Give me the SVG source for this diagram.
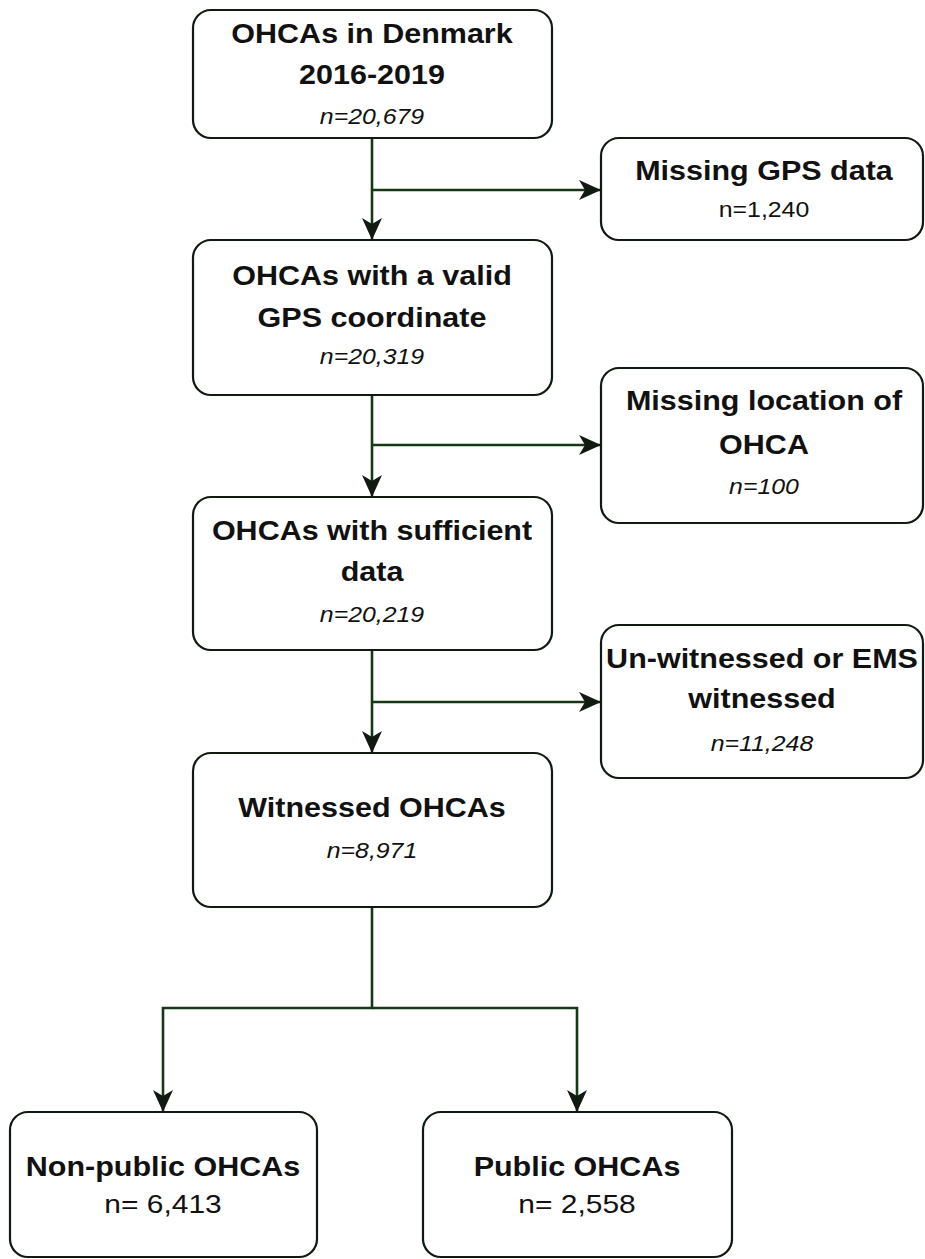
<svg xmlns="http://www.w3.org/2000/svg" width="925" height="1259" viewBox="0 0 925 1259">
<defs>
<style>
.box{fill:#ffffff;stroke:#111a11;stroke-width:2.2}
.con{fill:none;stroke:#173817;stroke-width:2.6}
.t{font-family:"Liberation Sans",Arial,sans-serif;text-anchor:middle;fill:#111111}
.b{font-weight:bold;font-size:27px}
.i{font-style:italic;font-size:22px}
.r{font-size:22px}
.rb{font-size:26.5px}
</style>
<marker id="ah" viewBox="0 0 22 20" refX="21" refY="10" markerWidth="22" markerHeight="20" markerUnits="userSpaceOnUse" orient="auto">
<path d="M0,0 L22,10 L0,20 L6,10 Z" fill="#111a11"/>
</marker>
</defs>
<rect width="925" height="1259" fill="#ffffff"/>
<g id="connectors">
<line class="con" x1="372" y1="138" x2="372" y2="239" marker-end="url(#ah)"/>
<line class="con" x1="372" y1="190" x2="600" y2="190" marker-end="url(#ah)"/>
<line class="con" x1="372" y1="395" x2="372" y2="496" marker-end="url(#ah)"/>
<line class="con" x1="372" y1="445" x2="600" y2="445" marker-end="url(#ah)"/>
<line class="con" x1="372" y1="650" x2="372" y2="752" marker-end="url(#ah)"/>
<line class="con" x1="372" y1="702" x2="600" y2="702" marker-end="url(#ah)"/>
<polyline class="con" points="372,907 372,1008 163,1008 163,1111" marker-end="url(#ah)"/>
<polyline class="con" points="372,1008 577,1008 577,1111" marker-end="url(#ah)"/>
</g>
<g id="n1">
<rect class="box" x="193" y="10" width="359" height="128" rx="18"/>
<text class="t b" transform="translate(372 43) scale(1.13 1)">OHCAs in Denmark</text>
<text class="t b" transform="translate(372 84) scale(1.13 1)">2016-2019</text>
<text class="t i" transform="translate(372 124) scale(1.13 1)">n=20,679</text>
</g>
<g id="n2">
<rect class="box" x="193" y="240" width="359" height="155" rx="18"/>
<text class="t b" transform="translate(372 285) scale(1.13 1)">OHCAs with a valid</text>
<text class="t b" transform="translate(372 327) scale(1.13 1)">GPS coordinate</text>
<text class="t i" transform="translate(372 364) scale(1.13 1)">n=20,319</text>
</g>
<g id="n3">
<rect class="box" x="193" y="497" width="359" height="153" rx="18"/>
<text class="t b" transform="translate(372 540) scale(1.13 1)">OHCAs with sufficient</text>
<text class="t b" transform="translate(372 581) scale(1.13 1)">data</text>
<text class="t i" transform="translate(372 622) scale(1.13 1)">n=20,219</text>
</g>
<g id="n4">
<rect class="box" x="193" y="753" width="359" height="154" rx="18"/>
<text class="t b" transform="translate(372 817) scale(1.13 1)">Witnessed OHCAs</text>
<text class="t i" transform="translate(372 858) scale(1.13 1)">n=8,971</text>
</g>
<g id="r1">
<rect class="box" x="601" y="138" width="322" height="102" rx="18"/>
<text class="t b" transform="translate(764 180) scale(1.13 1)">Missing GPS data</text>
<text class="t r" transform="translate(764 217) scale(1.13 1)">n=1,240</text>
</g>
<g id="r2">
<rect class="box" x="601" y="368" width="322" height="155" rx="18"/>
<text class="t b" transform="translate(764 410) scale(1.13 1)">Missing location of</text>
<text class="t b" transform="translate(764 454) scale(1.13 1)">OHCA</text>
<text class="t i" transform="translate(764 494) scale(1.13 1)">n=100</text>
</g>
<g id="r3">
<rect class="box" x="601" y="625" width="322" height="153" rx="18"/>
<text class="t b" transform="translate(762 668) scale(1.13 1)">Un-witnessed or EMS</text>
<text class="t b" transform="translate(762 708) scale(1.13 1)">witnessed</text>
<text class="t i" transform="translate(762 751) scale(1.13 1)">n=11,248</text>
</g>
<g id="b1">
<rect class="box" x="10" y="1112" width="307" height="145" rx="18"/>
<text class="t b" transform="translate(163 1176) scale(1.13 1)">Non-public OHCAs</text>
<text class="t rb" transform="translate(163 1213) scale(1.13 1)">n= 6,413</text>
</g>
<g id="b2">
<rect class="box" x="423" y="1112" width="309" height="145" rx="18"/>
<text class="t b" transform="translate(577 1176) scale(1.13 1)">Public OHCAs</text>
<text class="t rb" transform="translate(577 1213) scale(1.13 1)">n= 2,558</text>
</g>
</svg>
